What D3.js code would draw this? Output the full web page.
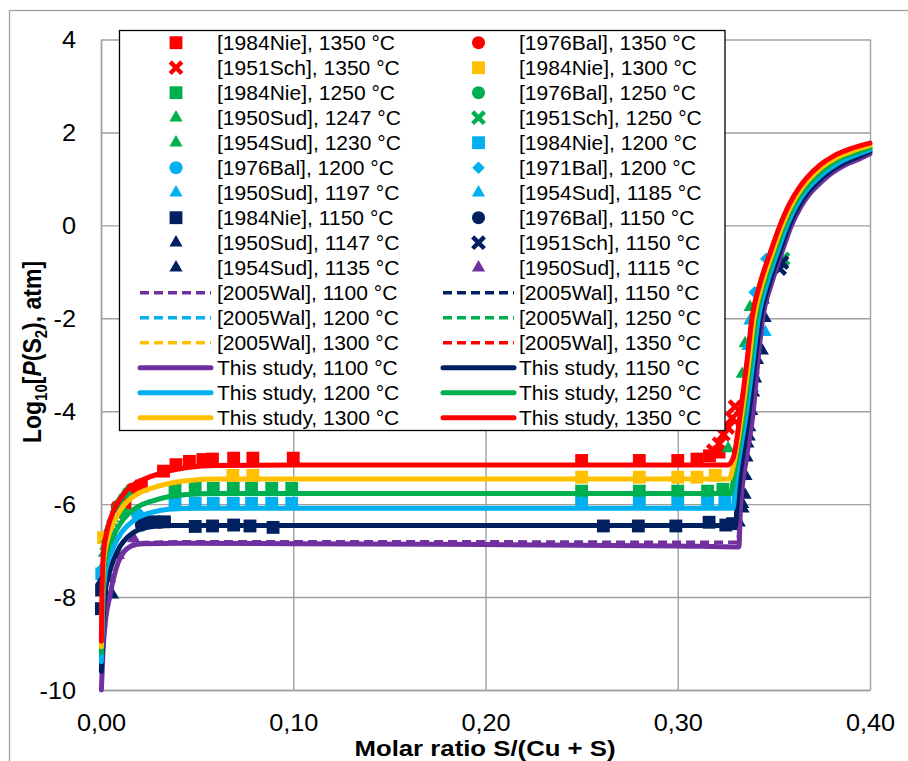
<!DOCTYPE html>
<html>
<head>
<meta charset="utf-8">
<script src="https://cdn.jsdelivr.net/npm/d3@7"></script>
<style>
  html, body { margin: 0; padding: 0; background: #fff; }
  svg { display: block; font-family: "Liberation Sans", Arial, sans-serif; }
</style>
</head>
<body>
<svg id="chart" width="908" height="761"></svg>
<script>
// axis ticks
const xTicks = [0, 0.1, 0.2, 0.3, 0.4];
const yTicks = [-10, -8, -6, -4, -2, 0, 2, 4];

// experimental points [S/(Cu+S), log10 P(S2)]
const nie1350 = [[0.0125,-5.98],[0.021,-5.61],[0.0325,-5.29],[0.039,-5.15],[0.046,-5.08],[0.053,-5.04],[0.058,-5.03],[0.069,-5.01],[0.079,-5.01],[0.1,-5.01],[0.25,-5.06],[0.28,-5.06],[0.30,-5.06],[0.31,-5.03],[0.3165,-4.96],[0.3215,-4.88]];
const bal1350 = [[0.0085,-6.05],[0.016,-5.68]];
const sch1350 = [[0.3185,-4.85],[0.3215,-4.7],[0.3238,-4.5],[0.326,-4.35],[0.3283,-4.15],[0.3298,-3.9]];
const nie1300 = [[0.0013,-6.72],[0.0686,-5.38],[0.079,-5.38],[0.25,-5.42],[0.28,-5.42],[0.30,-5.42],[0.31,-5.42],[0.3195,-5.38]];
const nie1250 = [[0.0385,-5.66],[0.049,-5.66],[0.0584,-5.66],[0.0688,-5.66],[0.0783,-5.66],[0.0888,-5.66],[0.0992,-5.66],[0.25,-5.72],[0.28,-5.72],[0.30,-5.72],[0.3155,-5.72],[0.3235,-5.68]];
const bal1250 = [[0.0052,-6.72],[0.0115,-6.2]];
const sud1247 = [[0.0008,-7.35],[0.0018,-7.05],[0.003,-6.75],[0.0045,-6.5],[0.006,-6.3],[0.0078,-6.1],[0.0098,-5.93],[0.012,-5.8],[0.3376,-1.76],[0.335,-2.54]];
const sch1250 = [[0.3548,-0.72]];
const sud1230 = [[0.0025,-6.9],[0.0055,-6.4],[0.0085,-6.02],[0.0135,-5.74],[0.3262,-4.8],[0.3335,-3.2]];
const nie1200 = [[0.0004,-7.5],[0.0385,-5.98],[0.049,-5.98],[0.0584,-5.98],[0.0688,-5.98],[0.0783,-5.98],[0.0888,-5.98],[0.0992,-5.98],[0.25,-5.98],[0.28,-5.98],[0.30,-5.98],[0.3155,-5.98],[0.3245,-5.95]];
const bal1200 = [[0.0006,-7.45],[0.019,-6.22]];
const bal1971 = [[0.346,-0.72],[0.340,-1.44]];
const sud1197 = [[0.3455,-2.3],[0.3407,-2.9],[0.339,-3.5]];
const sud1185 = [[0.3375,-2.05],[0.3365,-2.6],[0.3395,-3.2]];
const nie1150 = [[0.0002,-8.25],[0.0003,-7.85],[0.027,-6.38],[0.033,-6.38],[0.049,-6.48],[0.058,-6.47],[0.069,-6.45],[0.0775,-6.47],[0.0895,-6.5],[0.2613,-6.47],[0.2795,-6.47],[0.299,-6.47],[0.3163,-6.39],[0.325,-6.45],[0.3285,-6.42]];
const bal1150 = [[0.021,-6.45],[0.024,-6.4],[0.0305,-6.39]];
const sud1147 = [[0.3445,-1.6],[0.3455,-2.0],[0.344,-2.7],[0.3415,-2.9],[0.3405,-3.3],[0.3395,-3.6],[0.3385,-4.0],[0.3375,-4.35],[0.3365,-4.7],[0.336,-5.0],[0.3355,-5.4],[0.335,-5.8],[0.334,-6.1],[0.332,-6.4]];
const sch1150 = [[0.353,-0.93],[0.3542,-0.8]];
const sud1135 = [[0.0004,-7.65],[0.006,-7.95],[0.3392,-3.1],[0.3372,-4.55],[0.3338,-6.0]];
const sud1115 = [[0.0045,-7.6],[0.009,-7.1],[0.017,-6.74]];

// [2005Wal] calculated curves
const wal1100 = [[0.0003,-9.85],[0.0012,-9.0],[0.003,-8.3],[0.0055,-7.75],[0.008,-7.35],[0.011,-7.05],[0.015,-6.9],[0.02,-6.83],[0.04,-6.81],[0.1,-6.81],[0.2,-6.81],[0.3,-6.82],[0.3312,-6.82],[0.3322,-6.1],[0.3355,-5.0],[0.339,-4.0],[0.3413,-3.0],[0.344,-2.0],[0.3486,-1.25],[0.3538,-0.6],[0.359,0],[0.3638,0.4],[0.3688,0.7],[0.3729,0.87],[0.3798,1.12],[0.3868,1.3],[0.3948,1.44],[0.4,1.54]];
const wal1150 = [[0.0003,-9.5],[0.001,-8.55],[0.0025,-7.85],[0.005,-7.4],[0.008,-7.1],[0.012,-6.8],[0.017,-6.6],[0.023,-6.5],[0.035,-6.45],[0.1,-6.45],[0.2,-6.45],[0.3,-6.45],[0.3298,-6.45],[0.3309,-5.9],[0.337,-4.0],[0.3398,-3.0],[0.3428,-2.0],[0.3474,-1.25],[0.3526,-0.6],[0.3578,0],[0.3626,0.41],[0.3676,0.72],[0.3717,0.9],[0.3786,1.15],[0.3856,1.33],[0.3938,1.48],[0.4,1.59]];
const wal1200 = [[0.0003,-9.3],[0.001,-8.3],[0.0022,-7.5],[0.005,-7.08],[0.0075,-6.85],[0.011,-6.6],[0.016,-6.4],[0.021,-6.26],[0.028,-6.16],[0.04,-6.09],[0.1,-6.08],[0.2,-6.08],[0.3,-6.08],[0.3286,-6.08],[0.3298,-5.6],[0.3356,-4.0],[0.3387,-3.0],[0.3417,-2.0],[0.3462,-1.25],[0.3514,-0.6],[0.3566,0],[0.3614,0.42],[0.3664,0.74],[0.3705,0.93],[0.3774,1.18],[0.3844,1.37],[0.3928,1.52],[0.4,1.63]];
const wal1250 = [[0.0003,-9.1],[0.0009,-8.15],[0.0019,-7.32],[0.0042,-6.9],[0.0068,-6.66],[0.0105,-6.4],[0.0145,-6.2],[0.02,-6.05],[0.027,-5.93],[0.036,-5.83],[0.05,-5.78],[0.1,-5.76],[0.2,-5.76],[0.3,-5.76],[0.3274,-5.76],[0.329,-5.4],[0.3344,-4.0],[0.3376,-3.0],[0.3406,-2.0],[0.345,-1.25],[0.3502,-0.6],[0.3554,0],[0.3602,0.43],[0.3652,0.76],[0.3693,0.96],[0.3762,1.22],[0.3832,1.41],[0.3918,1.56],[0.4,1.67]];
const wal1300 = [[0.0003,-9.0],[0.0008,-8.05],[0.0017,-7.18],[0.0038,-6.73],[0.0063,-6.43],[0.01,-6.15],[0.014,-5.94],[0.02,-5.77],[0.027,-5.65],[0.037,-5.54],[0.05,-5.48],[0.1,-5.45],[0.2,-5.45],[0.3,-5.45],[0.3266,-5.45],[0.3286,-5.2],[0.3334,-4.0],[0.3366,-3.0],[0.3395,-2.0],[0.3438,-1.25],[0.349,-0.6],[0.3542,0],[0.359,0.44],[0.364,0.78],[0.3681,0.99],[0.375,1.26],[0.382,1.45],[0.3908,1.6],[0.4,1.72]];
const wal1350 = [[0.0003,-8.9],[0.0007,-7.95],[0.0015,-7.05],[0.0033,-6.58],[0.0058,-6.23],[0.0095,-5.93],[0.0135,-5.71],[0.019,-5.54],[0.026,-5.41],[0.036,-5.28],[0.047,-5.2],[0.06,-5.16],[0.1,-5.15],[0.2,-5.15],[0.3,-5.15],[0.3258,-5.15],[0.3287,-5.0],[0.3325,-4.0],[0.3356,-3.0],[0.3384,-2.0],[0.3426,-1.25],[0.3478,-0.6],[0.353,0],[0.3578,0.45],[0.3628,0.8],[0.3669,1.02],[0.3738,1.3],[0.3808,1.49],[0.3898,1.65],[0.4,1.77]];

// this study, calculated curves
const study1100 = [[0.0002,-10.0],[0.001,-9.2],[0.0025,-8.45],[0.0045,-8.0],[0.0065,-7.6],[0.009,-7.25],[0.012,-7.02],[0.016,-6.9],[0.022,-6.85],[0.04,-6.84],[0.1,-6.85],[0.2,-6.87],[0.3,-6.9],[0.3318,-6.92],[0.3326,-6.1],[0.3358,-5.0],[0.3393,-4.0],[0.3415,-3.0],[0.3442,-2.0],[0.3488,-1.25],[0.354,-0.6],[0.3592,0],[0.364,0.4],[0.369,0.7],[0.3731,0.87],[0.38,1.12],[0.387,1.3],[0.395,1.44],[0.4,1.54]];
const study1150 = [[0.0002,-9.6],[0.0009,-8.6],[0.0022,-7.9],[0.0045,-7.45],[0.007,-7.15],[0.01,-6.9],[0.014,-6.7],[0.019,-6.56],[0.025,-6.49],[0.035,-6.46],[0.1,-6.46],[0.2,-6.46],[0.3,-6.46],[0.33,-6.46],[0.3311,-5.9],[0.3372,-4.0],[0.34,-3.0],[0.343,-2.0],[0.3476,-1.25],[0.3528,-0.6],[0.358,0],[0.3628,0.41],[0.3678,0.72],[0.3719,0.9],[0.3788,1.15],[0.3858,1.33],[0.394,1.48],[0.4,1.59]];
const study1200 = [[0.0002,-9.39],[0.0008,-8.35],[0.002,-7.55],[0.0045,-7.12],[0.007,-6.88],[0.0105,-6.62],[0.015,-6.42],[0.02,-6.27],[0.027,-6.17],[0.035,-6.11],[0.05,-6.09],[0.1,-6.09],[0.2,-6.09],[0.3,-6.09],[0.3288,-6.09],[0.33,-5.6],[0.3358,-4.0],[0.3389,-3.0],[0.3419,-2.0],[0.3464,-1.25],[0.3516,-0.6],[0.3568,0],[0.3616,0.42],[0.3666,0.74],[0.3707,0.93],[0.3776,1.18],[0.3846,1.37],[0.393,1.52],[0.4,1.63]];
const study1250 = [[0.0002,-9.2],[0.0007,-8.2],[0.0017,-7.35],[0.004,-6.92],[0.0065,-6.68],[0.01,-6.42],[0.014,-6.22],[0.019,-6.06],[0.026,-5.94],[0.035,-5.84],[0.045,-5.79],[0.06,-5.77],[0.1,-5.77],[0.2,-5.77],[0.3,-5.77],[0.3276,-5.77],[0.3292,-5.4],[0.3346,-4.0],[0.3378,-3.0],[0.3408,-2.0],[0.3452,-1.25],[0.3504,-0.6],[0.3556,0],[0.3604,0.43],[0.3654,0.76],[0.3695,0.96],[0.3764,1.22],[0.3834,1.41],[0.392,1.56],[0.4,1.67]];
const study1300 = [[0.0002,-9.07],[0.0006,-8.1],[0.0015,-7.2],[0.0035,-6.75],[0.006,-6.45],[0.0095,-6.17],[0.0135,-5.95],[0.019,-5.78],[0.026,-5.66],[0.036,-5.55],[0.046,-5.49],[0.06,-5.46],[0.1,-5.46],[0.2,-5.46],[0.3,-5.46],[0.3268,-5.46],[0.3288,-5.2],[0.3336,-4.0],[0.3368,-3.0],[0.3397,-2.0],[0.344,-1.25],[0.3492,-0.6],[0.3544,0],[0.3592,0.44],[0.3642,0.78],[0.3683,0.99],[0.3752,1.26],[0.3822,1.45],[0.391,1.6],[0.4,1.72]];
const study1350 = [[0.0002,-8.95],[0.0005,-8.0],[0.0013,-7.06],[0.003,-6.6],[0.0055,-6.25],[0.009,-5.95],[0.013,-5.72],[0.018,-5.55],[0.025,-5.42],[0.035,-5.29],[0.045,-5.21],[0.06,-5.17],[0.1,-5.16],[0.2,-5.16],[0.3,-5.16],[0.326,-5.16],[0.3289,-5.0],[0.3327,-4.0],[0.3358,-3.0],[0.3386,-2.0],[0.3428,-1.25],[0.348,-0.6],[0.3532,0],[0.358,0.45],[0.363,0.8],[0.3671,1.02],[0.374,1.3],[0.381,1.49],[0.39,1.65],[0.4,1.77]];

const C = { c1350: '#ff0000', c1300: '#ffc000', c1250: '#00b050', c1200: '#00b0f0', c1150: '#002060', c1100: '#7030a0' };
const deg = '\u00b0C';

// series in legend order (row by row, left column first)
const series = [
  { label: `[1984Nie], 1350 ${deg}`, color: C.c1350, kind: 'square', data: nie1350 },
  { label: `[1976Bal], 1350 ${deg}`, color: C.c1350, kind: 'circle', data: bal1350 },
  { label: `[1951Sch], 1350 ${deg}`, color: C.c1350, kind: 'x', data: sch1350 },
  { label: `[1984Nie], 1300 ${deg}`, color: C.c1300, kind: 'square', data: nie1300 },
  { label: `[1984Nie], 1250 ${deg}`, color: C.c1250, kind: 'square', data: nie1250 },
  { label: `[1976Bal], 1250 ${deg}`, color: C.c1250, kind: 'circle', data: bal1250 },
  { label: `[1950Sud], 1247 ${deg}`, color: C.c1250, kind: 'triangle', data: sud1247 },
  { label: `[1951Sch], 1250 ${deg}`, color: C.c1250, kind: 'x', data: sch1250 },
  { label: `[1954Sud], 1230 ${deg}`, color: C.c1250, kind: 'triangle', data: sud1230 },
  { label: `[1984Nie], 1200 ${deg}`, color: C.c1200, kind: 'square', data: nie1200 },
  { label: `[1976Bal], 1200 ${deg}`, color: C.c1200, kind: 'circle', data: bal1200 },
  { label: `[1971Bal], 1200 ${deg}`, color: C.c1200, kind: 'diamond', data: bal1971 },
  { label: `[1950Sud], 1197 ${deg}`, color: C.c1200, kind: 'triangle', data: sud1197 },
  { label: `[1954Sud], 1185 ${deg}`, color: C.c1200, kind: 'triangle', data: sud1185 },
  { label: `[1984Nie], 1150 ${deg}`, color: C.c1150, kind: 'square', data: nie1150 },
  { label: `[1976Bal], 1150 ${deg}`, color: C.c1150, kind: 'circle', data: bal1150 },
  { label: `[1950Sud], 1147 ${deg}`, color: C.c1150, kind: 'triangle', data: sud1147 },
  { label: `[1951Sch], 1150 ${deg}`, color: C.c1150, kind: 'x', data: sch1150 },
  { label: `[1954Sud], 1135 ${deg}`, color: C.c1150, kind: 'triangle', data: sud1135 },
  { label: `[1950Sud], 1115 ${deg}`, color: C.c1100, kind: 'triangle', data: sud1115 },
  { label: `[2005Wal], 1100 ${deg}`, color: C.c1100, kind: 'dash', data: wal1100 },
  { label: `[2005Wal], 1150 ${deg}`, color: C.c1150, kind: 'dash', data: wal1150 },
  { label: `[2005Wal], 1200 ${deg}`, color: C.c1200, kind: 'dash', data: wal1200 },
  { label: `[2005Wal], 1250 ${deg}`, color: C.c1250, kind: 'dash', data: wal1250 },
  { label: `[2005Wal], 1300 ${deg}`, color: C.c1300, kind: 'dash', data: wal1300 },
  { label: `[2005Wal], 1350 ${deg}`, color: C.c1350, kind: 'dash', data: wal1350 },
  { label: `This study, 1100 ${deg}`, color: C.c1100, kind: 'solid', data: study1100 },
  { label: `This study, 1150 ${deg}`, color: C.c1150, kind: 'solid', data: study1150 },
  { label: `This study, 1200 ${deg}`, color: C.c1200, kind: 'solid', data: study1200 },
  { label: `This study, 1250 ${deg}`, color: C.c1250, kind: 'solid', data: study1250 },
  { label: `This study, 1300 ${deg}`, color: C.c1300, kind: 'solid', data: study1300 },
  { label: `This study, 1350 ${deg}`, color: C.c1350, kind: 'solid', data: study1350 },
];

const width = 908, height = 761;
const margin = { top: 39.5, right: 38, bottom: 71, left: 101 };
const gridColor = '#a0a0a0';

const svg = d3.select('#chart');

// outer chart border
svg.append('rect')
  .attr('x', 9.5).attr('y', 10.5)
  .attr('width', 960).attr('height', 800)
  .attr('fill', 'none').attr('stroke', gridColor).attr('stroke-width', 1.3);

const x = d3.scaleLinear().domain([0, 0.4]).range([margin.left, width - margin.right]);
const y = d3.scaleLinear().domain([-10, 4]).range([height - margin.bottom, margin.top]);
const plotW = x(0.4) - x(0);
const plotH = y(-10) - y(4);

const loc = d3.formatLocale({ decimal: ',', thousands: '.', grouping: [3], currency: ['', ''], minus: '-' });

// axes with gridlines
const xAxis = d3.axisBottom(x).tickValues(xTicks).tickFormat(loc.format('.2f'))
  .tickSize(-plotH).tickSizeOuter(0).tickPadding(25);
const gx = svg.append('g').attr('transform', `translate(0,${y(-10)})`).call(xAxis);

const yAxis = d3.axisLeft(y).tickValues(yTicks).tickFormat(loc.format('d'))
  .tickSize(-plotW).tickSizeOuter(0).tickPadding(22.7);
const gy = svg.append('g').attr('transform', `translate(${x(0)},0)`).call(yAxis);

[gx, gy].forEach((g) => {
  g.selectAll('line, path').attr('stroke', gridColor).attr('stroke-width', 1.4);
  g.selectAll('text')
    .attr('font-size', 23)
    .attr('font-family', '"Liberation Sans", Arial, sans-serif')
    .attr('fill', '#000')
    .attr('transform', 'scale(1.1,1)');
});
gy.selectAll('text').attr('dy', '0.36em');

// series
const plot = svg.append('g');
const line = d3.line().x((d) => x(d[0])).y((d) => y(d[1])).curve(d3.curveMonotoneX);

const symbolPath = (kind) => {
  if (kind === 'square') return d3.symbol(d3.symbolSquare, 165)();
  if (kind === 'circle') return d3.symbol(d3.symbolCircle, 135)();
  if (kind === 'triangle') return d3.symbol(d3.symbolTriangle, 75)();
  if (kind === 'diamond') return d3.symbol(d3.symbolSquare, 78)();
  return 'M-4.3,-4.3L4.3,4.3M-4.3,4.3L4.3,-4.3';
};

const drawMarkers = (g, s, pts) => {
  const isX = s.kind === 'x';
  g.selectAll(null)
    .data(pts)
    .join('path')
    .attr('d', symbolPath(s.kind))
    .attr('transform', (d) => `translate(${d[0]},${d[1]})` + (s.kind === 'diamond' ? ' rotate(45)' : ''))
    .attr('fill', isX ? 'none' : s.color)
    .attr('stroke', isX ? s.color : 'none')
    .attr('stroke-width', isX ? 4.4 : 0)
    .attr('stroke-linecap', 'square');
};

series.forEach((s) => {
  if (s.kind === 'solid' || s.kind === 'dash') {
    plot.append('path')
      .datum(s.data)
      .attr('d', line)
      .attr('fill', 'none')
      .attr('stroke', s.color)
      .attr('stroke-width', s.kind === 'solid' ? 5 : 3.4)
      .attr('stroke-dasharray', s.kind === 'dash' ? '9,5' : null)
      .attr('stroke-linejoin', 'round')
      .attr('stroke-linecap', s.kind === 'solid' ? 'round' : 'butt');
  } else {
    drawMarkers(plot.append('g'), s, s.data.map((d) => [x(d[0]), y(d[1])]));
  }
});

// axis titles
svg.append('text')
  .attr('transform', 'translate(485,756) scale(1.12,1)')
  .attr('text-anchor', 'middle')
  .attr('font-size', 23)
  .attr('font-weight', 'bold')
  .text('Molar ratio S/(Cu + S)');

const yt = svg.append('text')
  .attr('transform', 'translate(41,352) scale(1.1,1) rotate(-90)')
  .attr('text-anchor', 'middle')
  .attr('font-size', 23)
  .attr('font-weight', 'bold');
yt.append('tspan').text('Log');
yt.append('tspan').attr('font-size', 15).attr('dy', 5).text('10');
yt.append('tspan').attr('dy', -5).text('[');
yt.append('tspan').attr('font-style', 'italic').text('P');
yt.append('tspan').text('(S');
yt.append('tspan').attr('font-size', 15).attr('dy', 5).text('2');
yt.append('tspan').attr('dy', -5).text('), atm]');

// legend
const legend = svg.append('g');
legend.append('rect')
  .attr('x', 119.5).attr('y', 30.5)
  .attr('width', 605.5).attr('height', 400)
  .attr('fill', '#fff').attr('stroke', '#000').attr('stroke-width', 1.3);

const colLine = [140, 443];
const colMark = [176, 478.5];
const colText = [217, 519];

series.forEach((s, i) => {
  const row = Math.floor(i / 2), col = i % 2;
  const cy = 42.7 + 25 * row;
  const g = legend.append('g');
  if (s.kind === 'solid' || s.kind === 'dash') {
    g.append('line')
      .attr('x1', colLine[col]).attr('x2', colLine[col] + 71)
      .attr('y1', cy).attr('y2', cy)
      .attr('stroke', s.color)
      .attr('stroke-width', s.kind === 'solid' ? 5 : 3.4)
      .attr('stroke-dasharray', s.kind === 'dash' ? '9,5' : null)
      .attr('stroke-linecap', s.kind === 'solid' ? 'round' : 'butt');
  } else {
    drawMarkers(g, s, [[colMark[col], cy]]);
  }
  g.append('text')
    .attr('transform', `translate(${colText[col]},${cy + 7}) scale(1.08,1)`)
    .attr('font-size', 19.5)
    .attr('fill', '#000')
    .text(s.label);
});
</script>
</body>
</html>
